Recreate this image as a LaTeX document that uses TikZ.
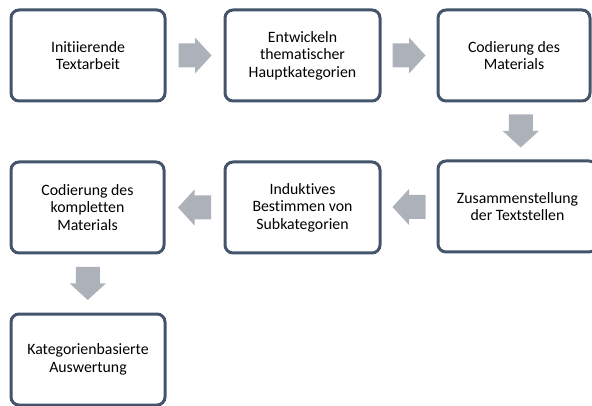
\documentclass[tikz,border=0pt]{standalone}
\usepackage{fontspec}
\setmainfont{Carlito}[Ligatures=NoCommon]
\usetikzlibrary{calc}
\definecolor{boxline}{RGB}{68,84,106}
\definecolor{arrowgray}{RGB}{173,178,186}
\begin{document}
\begin{tikzpicture}[x=1pt,y=-1pt,
  stepbox/.style={draw=boxline,line width=3pt,rounded corners=8pt,fill=white,
    align=center,inner sep=0pt,font=\fontsize{15.8}{17.5}\selectfont},
  blockarrow/.style={fill=arrowgray,draw=none}]
\useasboundingbox (0,0) rectangle (592,406);
\begin{scope}
\clip (0,0) rectangle (592,406);
\newcommand\stepnode[6]{\node[stepbox,minimum width=#4-#2,minimum height=#5-#3] (#1) at ({(#2+#4)/2},{(#3+#5)/2}) {#6};}
\newcommand\blockarrow[2]{\fill[blockarrow,shift={(#1)},rotate=#2]
  (-16.5,-12) -- (0,-12) -- (0,-18) -- (16.5,0) -- (0,18) -- (0,12) -- (-16.5,12) -- cycle;}
\stepnode{b1}{11}{10}{165}{101}{Initiierende\\Textarbeit}
\stepnode{b2}{225}{10}{380}{101}{Entwickeln\\thematischer\\Hauptkategorien}
\stepnode{b3}{438}{10}{590}{101}{Codierung des\\Materials}
\stepnode{b4}{438}{161}{597}{252}{Zusammenstellung\\der Textstellen}
\stepnode{b5}{225}{162}{380}{253}{Induktives\\Bestimmen von\\Subkategorien}
\stepnode{b6}{11}{162}{164}{253}{Codierung des\\kompletten\\Materials}
\stepnode{b7}{11}{314}{165}{405}{Kategorienbasierte\\Auswertung}
\coordinate (a1) at ($(b1.east)!0.5!(b2.west)$);
\coordinate (a2) at ($(b2.east)!0.5!(b3.west)$);
\coordinate (a3) at ($(b3.south)!0.5!(b4.north)+(5,0)$);
\coordinate (a4) at ($(b4.west)!0.5!(b5.east)$);
\coordinate (a5) at ($(b5.west)!0.5!(b6.east)$);
\coordinate (a6) at ($(b6.south)!0.5!(b7.north)$);
\blockarrow{a1}{0}
\blockarrow{a2}{0}
\blockarrow{a3}{-90}
\blockarrow{a4}{180}
\blockarrow{a5}{180}
\blockarrow{a6}{-90}
\end{scope}
\end{tikzpicture}
\end{document}
